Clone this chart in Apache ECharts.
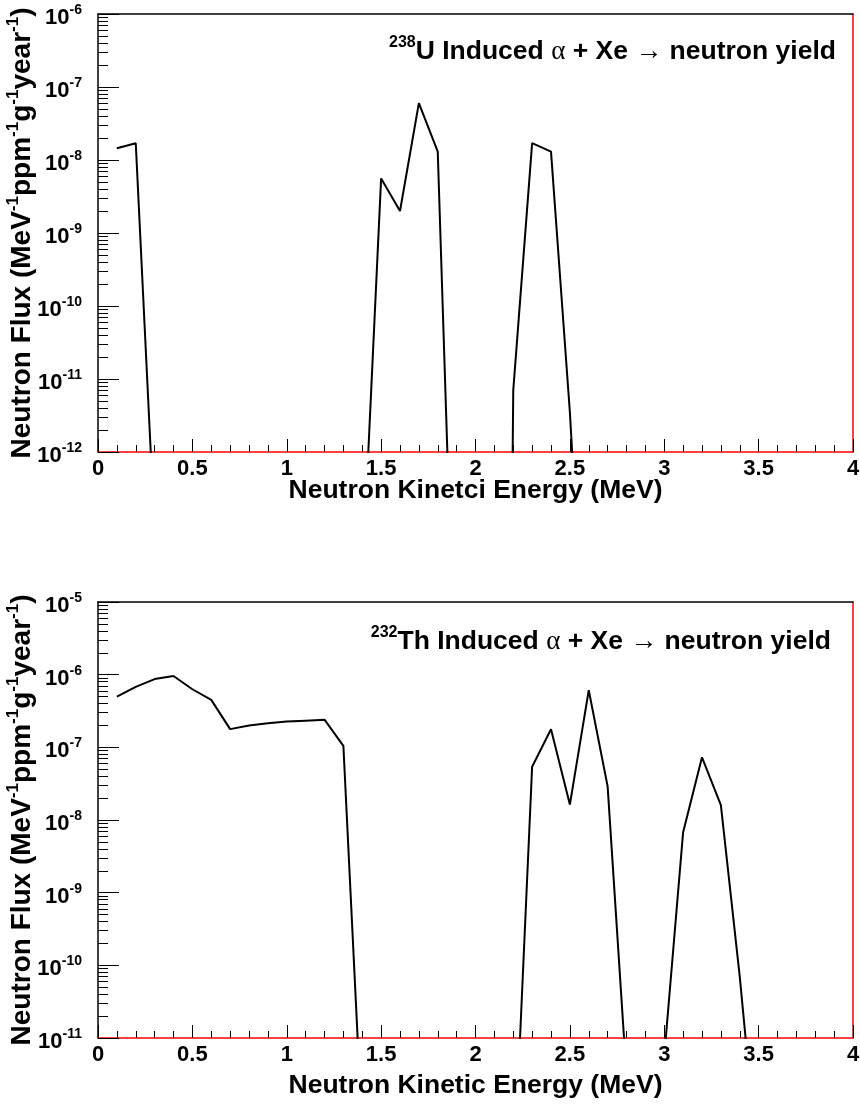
<!DOCTYPE html>
<html>
<head>
<meta charset="utf-8">
<script src="https://cdn.jsdelivr.net/npm/echarts@6/dist/echarts.min.js"></script>
<style>
  html, body { margin: 0; padding: 0; background: #fff; }
  #alphaXe { width: 860px; height: 1105px; }
</style>
</head>
<body>
<div id="alphaXe"></div>
<script>
// 238U panel : neutron kinetic energy (MeV) vs flux (MeV^-1 ppm^-1 g^-1 year^-1)
var u238Energy = [0.1, 0.2, 0.3, 1.4, 1.5, 1.6, 1.7, 1.8, 1.9, 2.1, 2.2, 2.3, 2.4, 2.5, 2.6];
var u238Flux = [1.45e-8, 1.7e-8, 8e-14, 1.7e-14, 5.6e-9, 2.0e-9, 6.0e-8, 1.3e-8, 1.1e-16, 1e-39, 7e-12, 1.7e-8, 1.3e-8, 3.5e-12, 1e-16];

// 232Th panel
var th232Energy = [0.1, 0.2, 0.3, 0.4, 0.5, 0.6, 0.7, 0.8, 0.9, 1.0, 1.1, 1.2, 1.3, 1.4,
    2.2, 2.3, 2.4, 2.5, 2.6, 2.7, 2.8, 2.9, 3.0, 3.1, 3.2, 3.3, 3.4, 3.5];
var th232Flux = [5.0e-7, 6.8e-7, 8.7e-7, 9.6e-7, 6.3e-7, 4.5e-7, 1.78e-7, 2.0e-7, 2.15e-7, 2.26e-7, 2.33e-7, 2.4e-7, 1.05e-7, 5e-13,
    8e-14, 5.4e-8, 1.77e-7, 1.63e-8, 6.1e-7, 2.9e-8, 3e-12, 1e-14, 5.6e-12, 6.8e-9, 7.3e-8, 1.6e-8, 7e-11, 1.3e-13];

// axis ranges / tick labels
var energyMin = 0, energyMax = 4, energyStep = 0.5;
var u238Decades = [-12, -11, -10, -9, -8, -7, -6];
var th232Decades = [-11, -10, -9, -8, -7, -6, -5];

var FONT = 'Liberation Sans';

function dec(m, e) { return Number(m + 'e' + e); }

function majorVals(decades) {
    return decades.map(function (e) { return dec(1, e); });
}
function minorVals(decades) {
    var out = [];
    for (var i = 0; i < decades.length - 1; i++) {
        for (var m = 2; m <= 9; m++) out.push(dec(m, decades[i]));
    }
    return out;
}

var supRich = {
    b: { fontFamily: FONT, fontWeight: 'bold', fontSize: 22, color: '#000', lineHeight: 30 },
    s: { fontFamily: FONT, fontWeight: 'bold', fontSize: 14, color: '#000', lineHeight: 14, verticalAlign: 'top' }
};
var nameRich = {
    b: { fontFamily: FONT, fontWeight: 'bold', fontSize: 28, color: '#000', lineHeight: 34 },
    s: { fontFamily: FONT, fontWeight: 'bold', fontSize: 17, color: '#000', lineHeight: 16, verticalAlign: 'top' }
};
var noteRich = {
    b: { fontFamily: FONT, fontWeight: 'bold', fontSize: 26.5, color: '#000', lineHeight: 34 },
    s: { fontFamily: FONT, fontWeight: 'bold', fontSize: 16, color: '#000', lineHeight: 16, verticalAlign: 'top' },
    g: { fontFamily: 'Liberation Serif', fontSize: 27, color: '#000', lineHeight: 34 }
};

function expLabel(v) {
    var e = Math.round(Math.log10(v));
    return '{b|10}{s|' + e + '}';
}

var grids = [
    { left: 98, top: 14, width: 755, height: 438, containLabel: false, outerBoundsMode: 'none' },
    { left: 98, top: 602, width: 755, height: 436, containLabel: false, outerBoundsMode: 'none' }
];
var xAxes = [], yAxes = [];

function addPanel(g, decades, xName, xNameGap) {
    var majors = majorVals(decades);
    var lo = majors[0] * 0.9999, hi = majors[majors.length - 1] * 1.0001;
    xAxes.push({
        type: 'value', gridIndex: g, position: 'bottom',
        min: energyMin, max: energyMax, interval: energyStep,
        axisLine: { show: true, lineStyle: { color: '#ff0000', width: 1.5 } },
        axisTick: { show: true, inside: true, length: 13, lineStyle: { color: '#000', width: 1 } },
        minorTick: { show: true, splitNumber: 5, length: 7, lineStyle: { color: '#000', width: 1 } },
        axisLabel: { fontFamily: FONT, fontWeight: 'bold', fontSize: 22, color: '#000', margin: 6 },
        splitLine: { show: false },
        name: xName, nameLocation: 'middle', nameGap: xNameGap, nameMoveOverlap: false,
        nameTextStyle: { fontFamily: FONT, fontWeight: 'bold', fontSize: 26.5, color: '#000' }
    });
    xAxes.push({
        type: 'value', gridIndex: g, position: 'top', min: 0, max: 1,
        axisLine: { show: true, lineStyle: { color: '#000', width: 1.5 } },
        axisTick: { show: false }, axisLabel: { show: false }, splitLine: { show: false }
    });
    yAxes.push({
        type: 'log', gridIndex: g, position: 'left', min: lo, max: hi,
        axisLine: { show: true, lineStyle: { color: '#000', width: 1.5 } },
        axisTick: { show: true, inside: true, length: 21, customValues: majors, lineStyle: { color: '#000' } },
        axisLabel: { customValues: majors, margin: 16, padding: [8, 0, 0, 0], formatter: expLabel, rich: supRich },
        splitLine: { show: false },
        name: '{b|Neutron Flux (MeV}{s|-1}{b|ppm}{s|-1}{b|g}{s|-1}{b|year}{s|-1}{b|)}',
        nameLocation: 'middle', nameRotate: 90, nameGap: 59, nameMoveOverlap: false,
        nameTextStyle: { rich: nameRich }
    });
    yAxes.push({
        type: 'log', gridIndex: g, position: 'left', offset: 0, min: lo, max: hi,
        axisLine: { show: false },
        axisTick: { show: true, inside: true, length: 10, customValues: minorVals(decades), lineStyle: { color: '#000' } },
        axisLabel: { show: false }, splitLine: { show: false }
    });
    yAxes.push({
        type: 'value', gridIndex: g, position: 'right', min: 0, max: 1,
        axisLine: { show: true, lineStyle: { color: '#ff0000', width: 1.5 } },
        axisTick: { show: false }, axisLabel: { show: false }, splitLine: { show: false }
    });
}

addPanel(0, u238Decades, 'Neutron Kinetci Energy (MeV)', 25);
addPanel(1, th232Decades, 'Neutron Kinetic Energy (MeV)', 34);

function pairs(xs, ys) {
    return xs.map(function (x, i) { return [x, ys[i]]; });
}

var option = {
    animation: false,
    backgroundColor: '#fff',
    grid: grids,
    xAxis: xAxes,
    yAxis: yAxes,
    graphic: [
        { type: 'text', x: 836, y: 52, style: { text: '{s|238}{b|U Induced }{g|α}{b| + Xe }{g|→}{b| neutron yield}', rich: noteRich, align: 'right', verticalAlign: 'middle' } },
        { type: 'text', x: 831, y: 642, style: { text: '{s|232}{b|Th Induced }{g|α}{b| + Xe }{g|→}{b| neutron yield}', rich: noteRich, align: 'right', verticalAlign: 'middle' } }
    ],
    series: [
        {
            type: 'line', xAxisIndex: 0, yAxisIndex: 0, clip: true,
            showSymbol: false, symbol: 'none',
            lineStyle: { color: '#000', width: 2 },
            data: pairs(u238Energy, u238Flux)
        },
        {
            type: 'line', xAxisIndex: 2, yAxisIndex: 3, clip: true,
            showSymbol: false, symbol: 'none',
            lineStyle: { color: '#000', width: 2 },
            data: pairs(th232Energy, th232Flux)
        }
    ]
};

try {
    var chart = echarts.init(document.getElementById('alphaXe'));
    chart.setOption(option);
} catch (e) {
    console.log(e);
}
</script>
</body>
</html>
